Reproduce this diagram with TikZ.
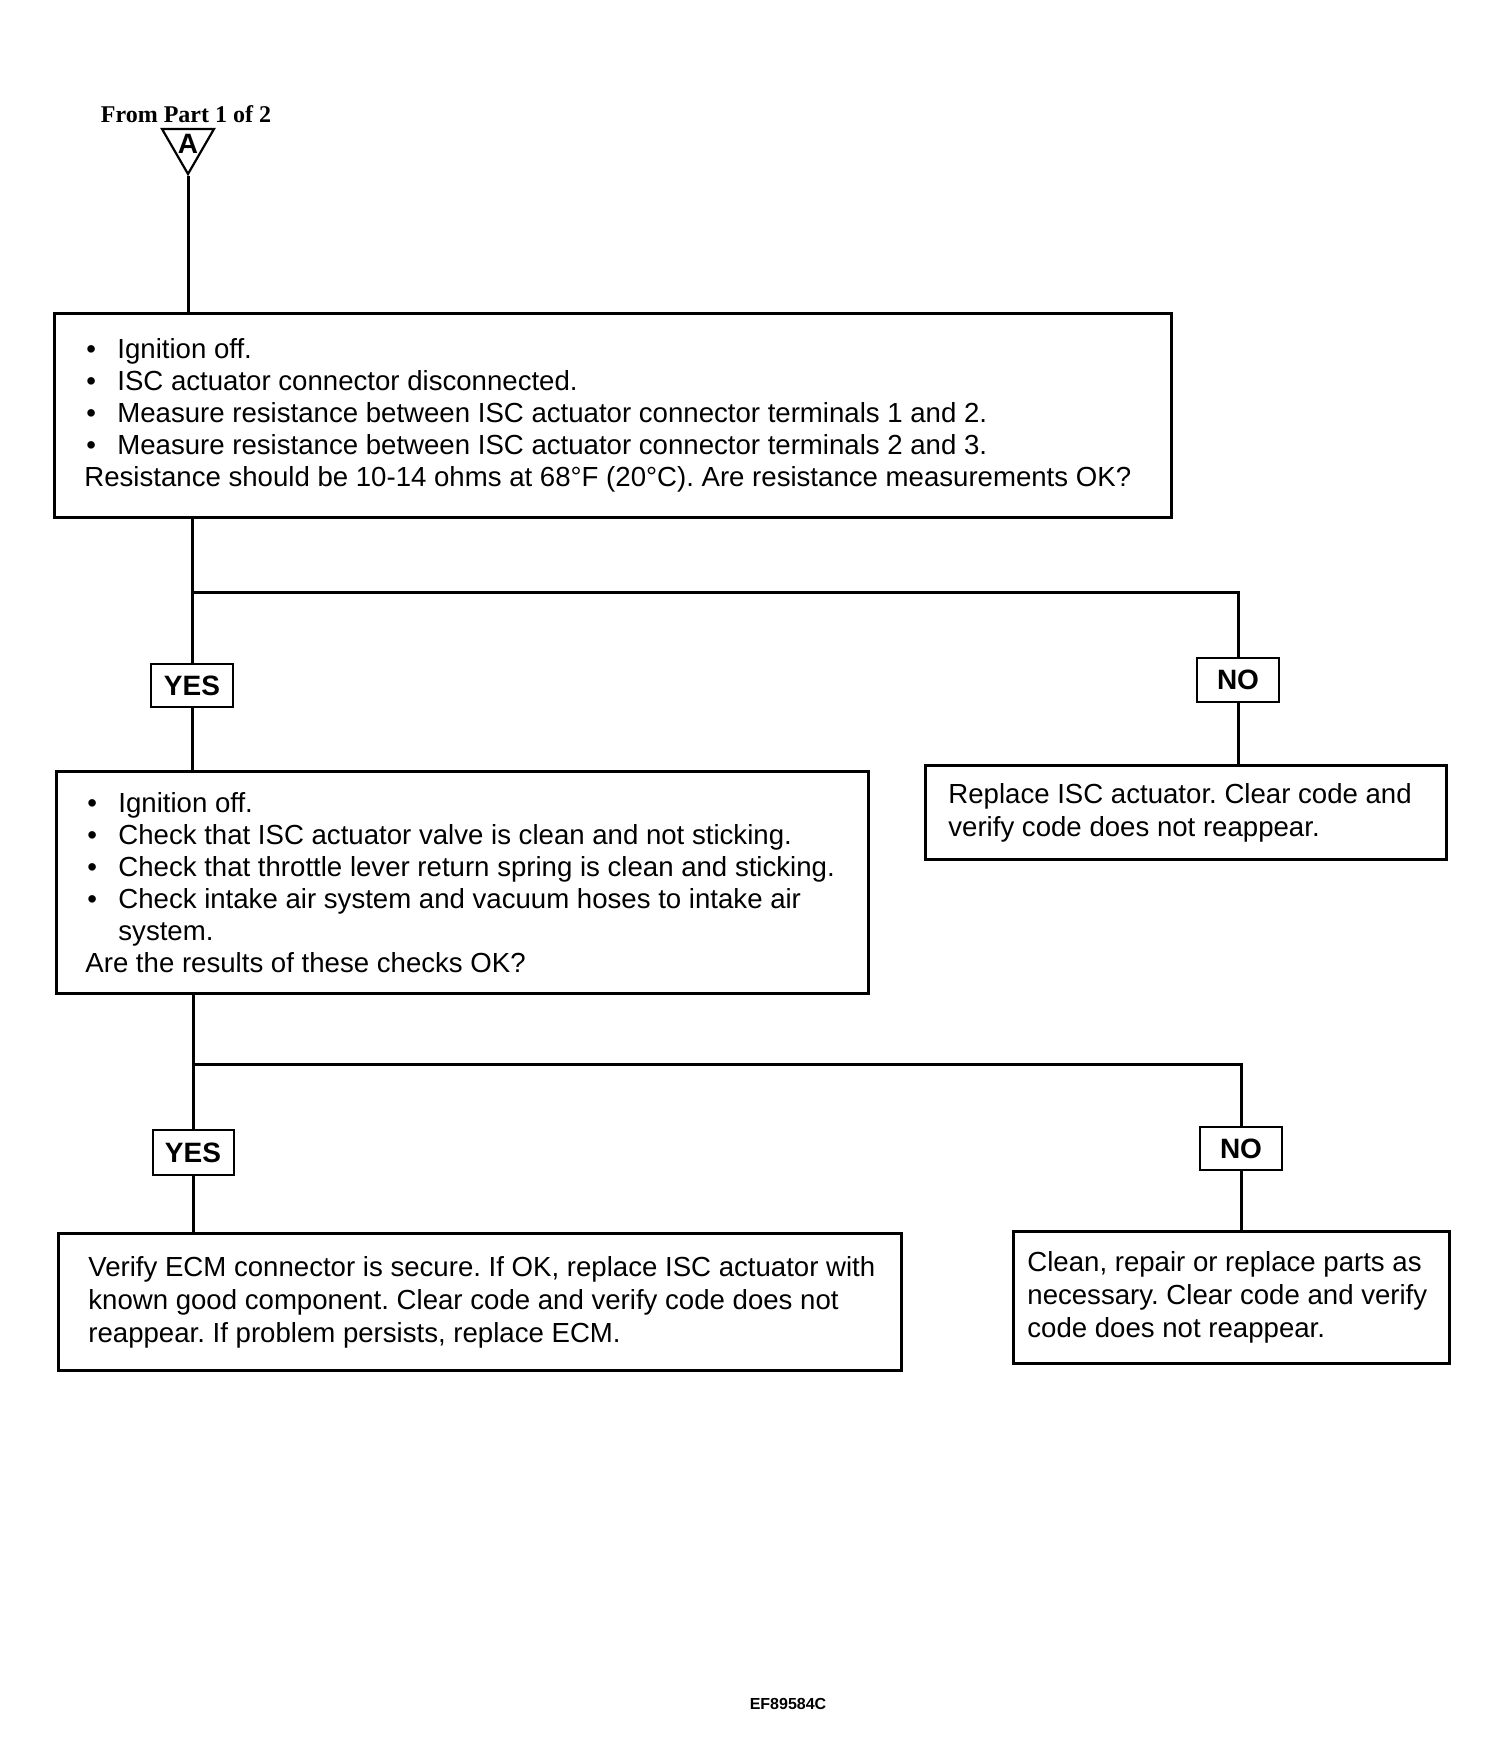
\documentclass[tikz,border=0pt]{standalone}
\usepackage{fontspec}
\setmainfont{Liberation Sans}
\newfontfamily\fromfont{Liberation Serif}
\usetikzlibrary{shapes.geometric,calc}
\newcommand\bitem[1]{\makebox[16.5pt][l]{\hspace{1pt}\textbullet}#1}
\begin{document}
\frenchspacing
\begin{tikzpicture}[x=0.5pt,y=-0.5pt,
  box/.style={draw,line width=1.6pt,inner sep=0pt,anchor=north west},
  lbl/.style={draw,line width=1pt,inner sep=0pt,font=\fontsize{14}{16}\selectfont\bfseries},
  txt/.style={anchor=west,align=left,inner sep=0pt,font=\fontsize{13.8}{16}\selectfont\frenchspacing},
  txtb/.style={anchor=west,align=left,inner sep=0pt,font=\fontsize{13.8}{16.6}\selectfont\frenchspacing},
  conn/.style={line width=1.5pt}]
\fill[white] (0,0) rectangle (1504,1746);
\useasboundingbox (0,0) rectangle (1504,1746);

% start marker
\node[font={\fromfont\fontsize{12}{14}\selectfont\bfseries},inner sep=0pt] (from) at (186,114) {From Part 1 of 2};
\node[regular polygon,regular polygon sides=3,shape border rotate=180,draw,line width=1.1pt,
      minimum size=30pt,inner sep=0pt,font=\fontsize{14}{14}\selectfont\bfseries] (tri) at (188,144) {A};

% boxes
\node[box,minimum width=558.5pt,minimum height=102pt] (b1) at (53,312) {};
\node[txt] (t1) at ($(b1.west)+(31,0)$) {%
\bitem{Ignition off.}\\
\bitem{ISC actuator connector disconnected.}\\
\bitem{Measure resistance between ISC actuator connector terminals 1 and 2.}\\
\bitem{Measure resistance between ISC actuator connector terminals 2 and 3.}\\
Resistance should be 10-14 ohms at 68°F (20°C). Are resistance measurements OK?};

\node[lbl,minimum width=41pt,minimum height=21.5pt] (yes1) at (192,685.5) {YES};
\node[lbl,minimum width=41pt,minimum height=22pt] (no1) at (1238,680) {NO};

\node[box,minimum width=406pt,minimum height=111pt] (b2) at (55,770) {};
\node[txt] (t2) at ($(b2.west)+(30,0)$) {%
\bitem{Ignition off.}\\
\bitem{Check that ISC actuator valve is clean and not sticking.}\\
\bitem{Check that throttle lever return spring is clean and sticking.}\\
\bitem{Check intake air system and vacuum hoses to intake air}\\
\makebox[16.5pt]{}system.\\
Are the results of these checks OK?};

\node[box,minimum width=260.5pt,minimum height=47pt] (r1) at (924,764) {};
\node[txtb] (tr1) at ($(r1.west)+(24,0)$) {%
Replace ISC actuator. Clear code and\\
verify code does not reappear.};

\node[lbl,minimum width=40.5pt,minimum height=22.5pt] (yes2) at (193,1152.5) {YES};
\node[lbl,minimum width=41pt,minimum height=21.5pt] (no2) at (1241,1148.5) {NO};

\node[box,minimum width=421.5pt,minimum height=68.5pt] (b3) at (57,1232) {};
\node[txtb] (t3) at ($(b3.west)+(31,0)$) {%
Verify ECM connector is secure. If OK, replace ISC actuator with\\
known good component. Clear code and verify code does not\\
reappear. If problem persists, replace ECM.};

\node[box,minimum width=218pt,minimum height=66pt] (r2) at (1012,1230) {};
\node[txtb] (tr2) at ($(r2.west)+(15,0)$) {%
Clean, repair or replace parts as\\
necessary. Clear code and verify\\
code does not reappear.};

\node[font=\fontsize{8}{10}\selectfont\bfseries,inner sep=0pt] (code) at (788,1704) {EF89584C};

% connectors
\draw[conn] (tri.corner 1) -- (tri.corner 1 |- b1.north);
\coordinate (j1) at (192,592);
\draw[conn] (b1.south -| yes1.north) -- (yes1.north);
\draw[conn] (yes1.south) -- (yes1.south |- b2.north);
\draw[conn] (j1) -| (no1.north);
\draw[conn] (no1.south) -- (no1.south |- r1.north);

\coordinate (j2) at (193,1064);
\draw[conn] (b2.south -| yes2.north) -- (yes2.north);
\draw[conn] (yes2.south) -- (yes2.south |- b3.north);
\draw[conn] (j2) -| (no2.north);
\draw[conn] (no2.south) -- (no2.south |- r2.north);
\end{tikzpicture}
\end{document}
